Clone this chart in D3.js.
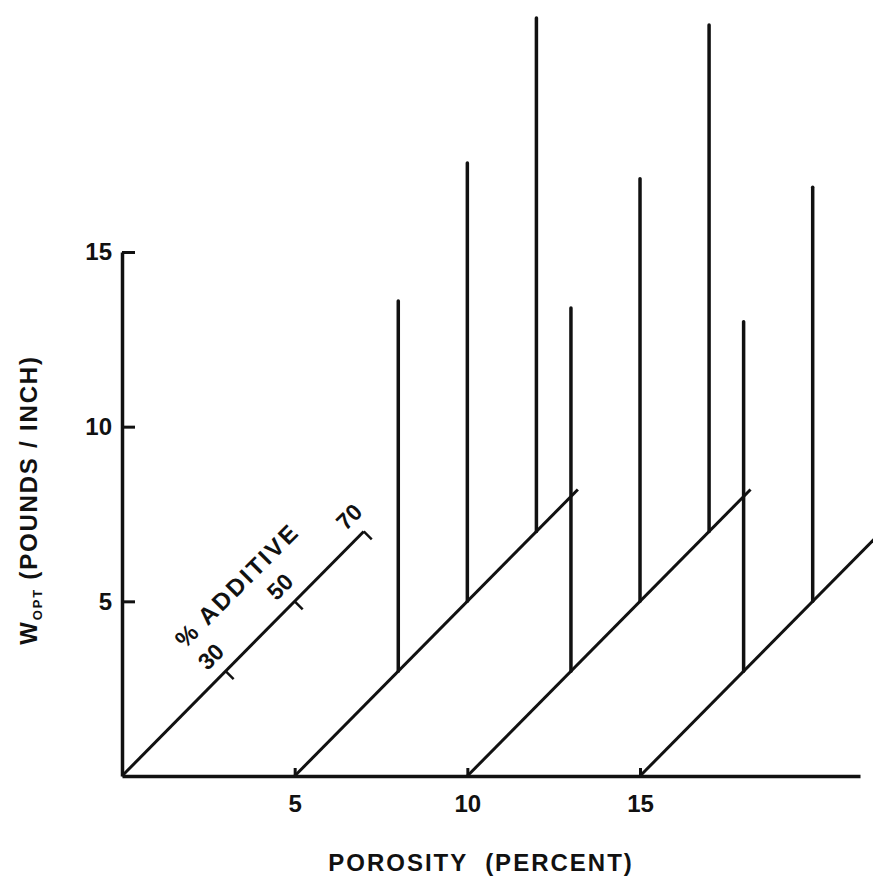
<!DOCTYPE html>
<html>
<head>
<meta charset="utf-8">
<script src="https://cdn.jsdelivr.net/npm/d3@7"></script>
<style>
  body { margin: 0; background: #fff; }
  text { font-family: "Liberation Sans", Arial, sans-serif; font-weight: bold; fill: #111; white-space: pre; }
</style>
</head>
<body>
<div id="main_div"></div>
<script>
// porosity (percent) at which each additive axis starts
var porosity = [0, 5, 10, 15];
// how far each additive axis runs (percent additive)
var additive_extent = [70, 82, 82, 82];
var additive_ticks = [30, 50, 70];
var y_ticks = [5, 10, 15];
var x_ticks = [5, 10, 15];

// W_opt bars, one list per porosity group
var bar_porosity = [5, 10, 15];
var bar_additive = [30, 50, 70];
var w_p5 = [10.6, 12.55, 14.7];
var w_p10 = [10.4, 12.1, 14.5];
var w_p15 = [10.0, 11.85];

// one percent additive moves 0.1 along both axes in the oblique view
var k = 0.1;

var svg = d3.select("#main_div").append("svg").attr("width", 873).attr("height", 886);

var x_scale = d3.scaleLinear().domain([0, 21.37]).range([122, 860]);
var y_scale = d3.scaleLinear().domain([0, 15]).range([776, 252]);

function oblique(p, a, w) {
    return [x_scale(p + a * k), y_scale(a * k + (w || 0))];
}

var g_y = svg.append("g").attr("transform", "translate(122,0)")
    .call(d3.axisLeft(y_scale).tickValues(y_ticks).tickSizeInner(-13).tickSizeOuter(0).tickPadding(10));
var g_x = svg.append("g").attr("transform", "translate(0,776)")
    .call(d3.axisBottom(x_scale).tickValues(x_ticks).tickSizeInner(-8).tickSizeOuter(0).tickPadding(19));

[g_y, g_x].forEach(function(g) {
    g.select(".domain").attr("stroke", "#111").attr("stroke-width", 3.5);
    g.selectAll(".tick line").attr("stroke", "#111").attr("stroke-width", 3);
    g.selectAll(".tick text").attr("font-size", 24).attr("font-family", null).attr("fill", "#111");
});

// additive axes
var line = d3.line();
svg.append("g").selectAll("path").data(porosity).enter().append("path")
    .attr("d", function(p, i) {
        return line([oblique(p, 0), oblique(p, additive_extent[i])]);
    })
    .attr("fill", "none").attr("stroke", "#111").attr("stroke-width", 3);

// ticks on the first additive axis, pointing down-right
svg.append("g").selectAll("path").data(additive_ticks).enter().append("path")
    .attr("d", function(a) {
        var pt = oblique(0, a);
        return line([pt, [pt[0] + 8, pt[1] + 8]]);
    })
    .attr("fill", "none").attr("stroke", "#111").attr("stroke-width", 2.5);

svg.append("g").selectAll("text").data(additive_ticks).enter().append("text")
    .attr("transform", function(a) {
        var pt = oblique(0, a);
        return "translate(" + (pt[0] - 9) + "," + (pt[1] - 9) + ") rotate(-45)";
    })
    .attr("text-anchor", "middle").attr("font-size", 23)
    .text(function(a) { return a; });

var mid = oblique(0, 44);
svg.append("text")
    .attr("transform", "translate(" + (mid[0] - 31) + "," + (mid[1] - 31) + ") rotate(-45)")
    .attr("text-anchor", "middle").attr("font-size", 24).attr("letter-spacing", 2.5)
    .text("% ADDITIVE");

// bars
var bars = [];
[w_p5, w_p10, w_p15].forEach(function(ws, i) {
    ws.forEach(function(w, j) {
        bars.push({p: bar_porosity[i], a: bar_additive[j], w: w});
    });
});
svg.append("g").selectAll("path").data(bars).enter().append("path")
    .attr("d", function(d) {
        return line([oblique(d.p, d.a), oblique(d.p, d.a, d.w)]);
    })
    .attr("fill", "none").attr("stroke", "#111").attr("stroke-width", 3.5).attr("stroke-linecap", "round");

// titles
svg.append("text").attr("x", 481).attr("y", 871).attr("text-anchor", "middle")
    .attr("font-size", 24).attr("letter-spacing", 2)
    .text("POROSITY  (PERCENT)");

var yt = svg.append("text").attr("transform", "translate(37,500) rotate(-90)")
    .attr("text-anchor", "middle").attr("font-size", 24).attr("letter-spacing", 1.8);
yt.append("tspan").text("W");
yt.append("tspan").attr("font-size", 13).attr("dy", 5).text("OPT");
yt.append("tspan").attr("dy", -5).text(" (POUNDS / INCH)");
</script>
</body>
</html>
